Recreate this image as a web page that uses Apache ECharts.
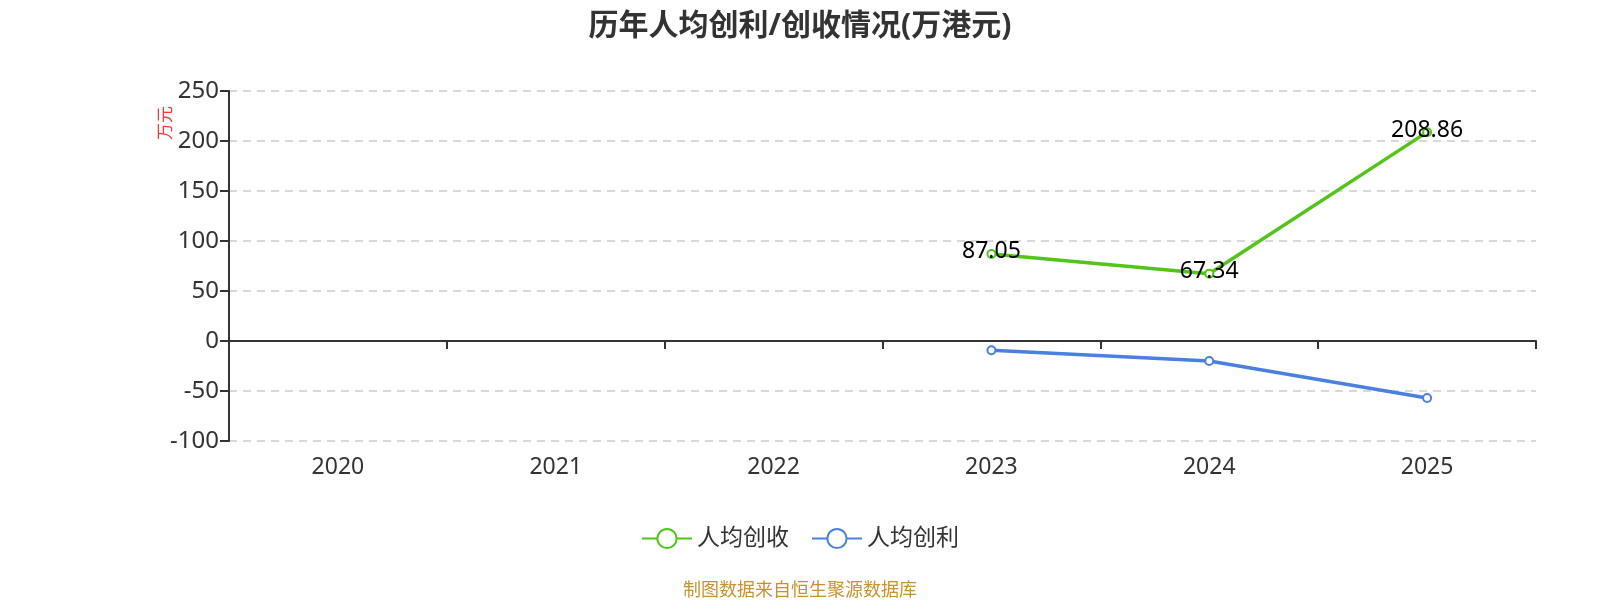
<!DOCTYPE html>
<html><head><meta charset="utf-8">
<script src="https://cdn.jsdelivr.net/npm/echarts@6/dist/echarts.min.js"></script>
<style>html,body{margin:0;padding:0;background:#fff}#c{width:1600px;height:600px}</style>
</head><body><div id="c"></div>
<script>
const categories = ['2020','2021','2022','2023','2024','2025'];
const revenuePerCapita = [null, null, null, 87.05, 67.34, 208.86];
const profitPerCapita = [null, null, null, -9.2, -20.0, -57.0];
const yTicks = {min: -100, max: 250, interval: 50};

const chart = echarts.init(document.getElementById('c'));
const font = '"Microsoft YaHei","Noto Sans","Noto Sans CJK SC",sans-serif';
chart.setOption({
  textStyle: {fontFamily: font},
  title: {text: '历年人均创利/创收情况(万港元)', left: 'center', top: 6,
    textStyle: {fontSize: 30, fontWeight: 'bold', color: '#333', fontFamily: font}},
  grid: {left: 229, right: 64, top: 91, bottom: 159},
  legend: {top: 522, left: 'center', itemWidth: 50, itemHeight: 24, itemGap: 22,
    textStyle: {fontSize: 23, color: '#333', fontFamily: font},
    data: ['人均创收', '人均创利']},
  graphic: [
    {type: 'text', left: 158, top: 106, rotation: Math.PI/2,
      style: {text: '万元', fill: '#ff3333', fontSize: 17, fontFamily: font}},
    {type: 'text', left: 'center', top: 582,
      style: {text: '制图数据来自恒生聚源数据库', fill: '#c8922f', fontSize: 18, fontFamily: font}}
  ],
  xAxis: {type: 'category', data: categories, boundaryGap: true,
    axisLine: {onZero: true, lineStyle: {color: '#333', width: 2}},
    axisTick: {show: true, length: 8, lineStyle: {color: '#333', width: 2}},
    axisLabel: {fontSize: 23, color: '#333', margin: 15}},
  yAxis: {type: 'value', min: yTicks.min, max: yTicks.max, interval: yTicks.interval,
    axisLine: {show: true, lineStyle: {color: '#333', width: 2}},
    axisTick: {show: true, length: 9, lineStyle: {color: '#333', width: 2}},
    axisLabel: {fontSize: 24, color: '#333', margin: 10},
    splitLine: {lineStyle: {type: [8, 6], color: '#ccc', width: 1.5}}},
  series: [
    {name: '人均创收', type: 'line', data: revenuePerCapita, connectNulls: false,
      symbol: 'emptyCircle', symbolSize: 8, color: '#52c41a',
      lineStyle: {width: 3.5, color: '#52c41a'},
      label: {show: true, position: 'inside', offset: [0, -2], fontSize: 23, color: '#000'}},
    {name: '人均创利', type: 'line', data: profitPerCapita,
      symbol: 'emptyCircle', symbolSize: 8, color: '#4a80e0',
      lineStyle: {width: 3.5, color: '#4a80e0'},
      label: {show: false}}
  ]
});
</script></body></html>
